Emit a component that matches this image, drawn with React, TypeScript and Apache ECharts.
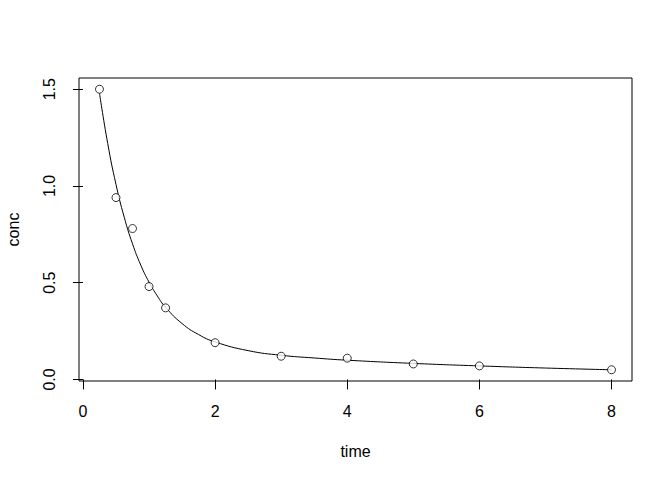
import React, { useEffect, useRef } from "react";
import * as echarts from "echarts";

const time = [0.25, 0.5, 0.75, 1, 1.25, 2, 3, 4, 5, 6, 8];
const conc = [1.5, 0.94, 0.78, 0.48, 0.37, 0.19, 0.12, 0.11, 0.08, 0.07, 0.05];

// fitted curve
const curveTime = [0.25, 0.375, 0.5, 0.625, 0.75, 0.875, 1, 1.125, 1.25, 1.5, 1.75, 2, 2.5, 3, 3.5, 4, 5, 6, 7, 8];
const curveConc = [1.48, 1.219, 1.008, 0.838, 0.701, 0.591, 0.503, 0.432, 0.373, 0.289, 0.232, 0.194, 0.149, 0.125, 0.111, 0.0995, 0.083, 0.07, 0.059, 0.05];

const xTicks = [0, 2, 4, 6, 8];
const yTicks = [0, 0.5, 1, 1.5];

export default function App() {
  const ref = useRef<HTMLDivElement>(null);
  useEffect(() => {
    const chart = echarts.init(ref.current!, null, { renderer: "svg" });
    const font = "Liberation Sans";
    chart.setOption({
      animation: false,
      backgroundColor: "#fff",
      grid: {
        left: 79,
        top: 78,
        right: 40,
        bottom: 99,
        show: true,
        borderColor: "#000",
        borderWidth: 1,
        containLabel: false,
        outerBoundsMode: "none",
      },
      xAxis: {
        type: "value",
        min: -0.06,
        max: 8.31,
        name: "time",
        nameLocation: "middle",
        nameGap: 62,
        nameTextStyle: { color: "#000", fontSize: 16, fontFamily: font },
        splitLine: { show: false },
        axisLine: { show: false },
        axisTick: { show: true, length: 10, customValues: xTicks, lineStyle: { color: "#000" } },
        axisLabel: {
          customValues: xTicks,
          color: "#000",
          fontSize: 16,
          fontFamily: font,
          margin: 22,
          formatter: (v: number) => String(v),
        },
      },
      yAxis: {
        type: "value",
        min: -0.008,
        max: 1.558,
        name: "conc",
        nameLocation: "middle",
        nameGap: 58,
        nameRotate: 90,
        nameTextStyle: { color: "#000", fontSize: 16, fontFamily: font },
        splitLine: { show: false },
        axisLine: { show: false },
        axisTick: { show: true, length: 10, customValues: yTicks, lineStyle: { color: "#000" } },
        axisLabel: {
          customValues: yTicks,
          color: "#000",
          fontSize: 16,
          fontFamily: font,
          rotate: 90,
          margin: 22,
          formatter: (v: number) => v.toFixed(1),
        },
      },
      series: [
        {
          type: "line",
          data: curveTime.map((t, i) => [t, curveConc[i]]),
          smooth: true,
          showSymbol: false,
          lineStyle: { color: "#000", width: 1 },
          silent: true,
          z: 1,
        },
        {
          type: "scatter",
          data: time.map((t, i) => [t, conc[i]]),
          symbol: "circle",
          symbolSize: 8,
          itemStyle: { color: "#fff", borderColor: "#000", borderWidth: 1 },
          z: 2,
        },
      ],
    });
    return () => chart.dispose();
  }, []);
  return (
    <div
      ref={ref}
      style={{ position: "fixed", left: 0, top: 0, width: 672, height: 480 }}
    />
  );
}
